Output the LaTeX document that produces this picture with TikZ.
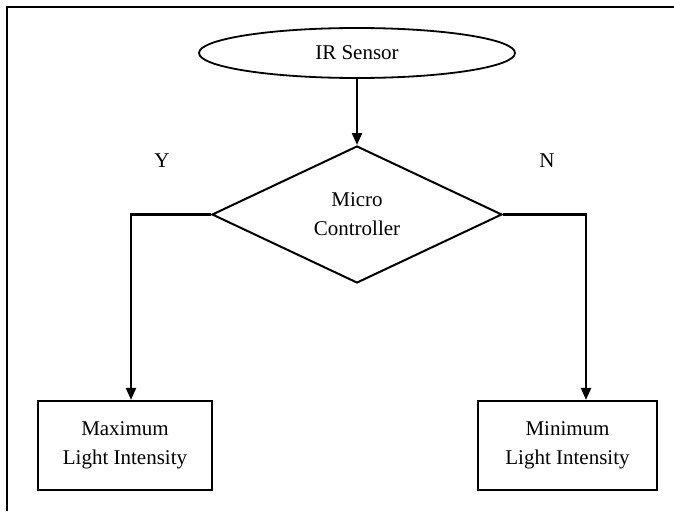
\documentclass[tikz,border=0pt]{standalone}
\usepackage{fontspec}
\setmainfont{Liberation Serif}
\usetikzlibrary{shapes.geometric,arrows.meta}
\begin{document}
\begin{tikzpicture}[x=1pt,y=-1pt,
  every node/.style={font=\fontsize{21}{29}\selectfont, inner sep=0pt, align=center},
  sensor/.style={ellipse, draw, line width=1.8pt, minimum width=316pt, minimum height=50pt},
  decide/.style={diamond, draw, line width=2pt, shape aspect=2.12, minimum width=290pt, minimum height=137pt},
  outbox/.style={rectangle, draw, line width=2.2pt},
  conn/.style={line width=2.2pt, -{Triangle[length=12pt,width=10pt]}},
  frameline/.style={line width=1.5pt}
]
\useasboundingbox (0,0) rectangle (674,511);
\draw[frameline] (7,511) -- (7,7) -- (674,7);

\node[sensor] (ir) at (357,53) {IR Sensor};
\node[decide] (mc) at (357,214.5) {Micro\\Controller};
\node[outbox, minimum width=174pt, minimum height=89pt] (maxb) at (125,445.5) {Maximum\\Light Intensity};
\node[outbox, minimum width=179pt, minimum height=89pt] (minb) at (567.5,445.5) {Minimum\\Light Intensity};

\node (ylab) at (162,161) {Y};
\node (nlab) at (547,161) {N};

\coordinate (cl) at (131,214.5);
\coordinate (cr) at (586,214.5);

\draw[conn] (ir.south) -- (mc.north);
\draw[conn] (mc.west) -- (cl) -- (cl |- maxb.north);
\draw[conn] (mc.east) -- (cr) -- (cr |- minb.north);
\end{tikzpicture}
\end{document}
